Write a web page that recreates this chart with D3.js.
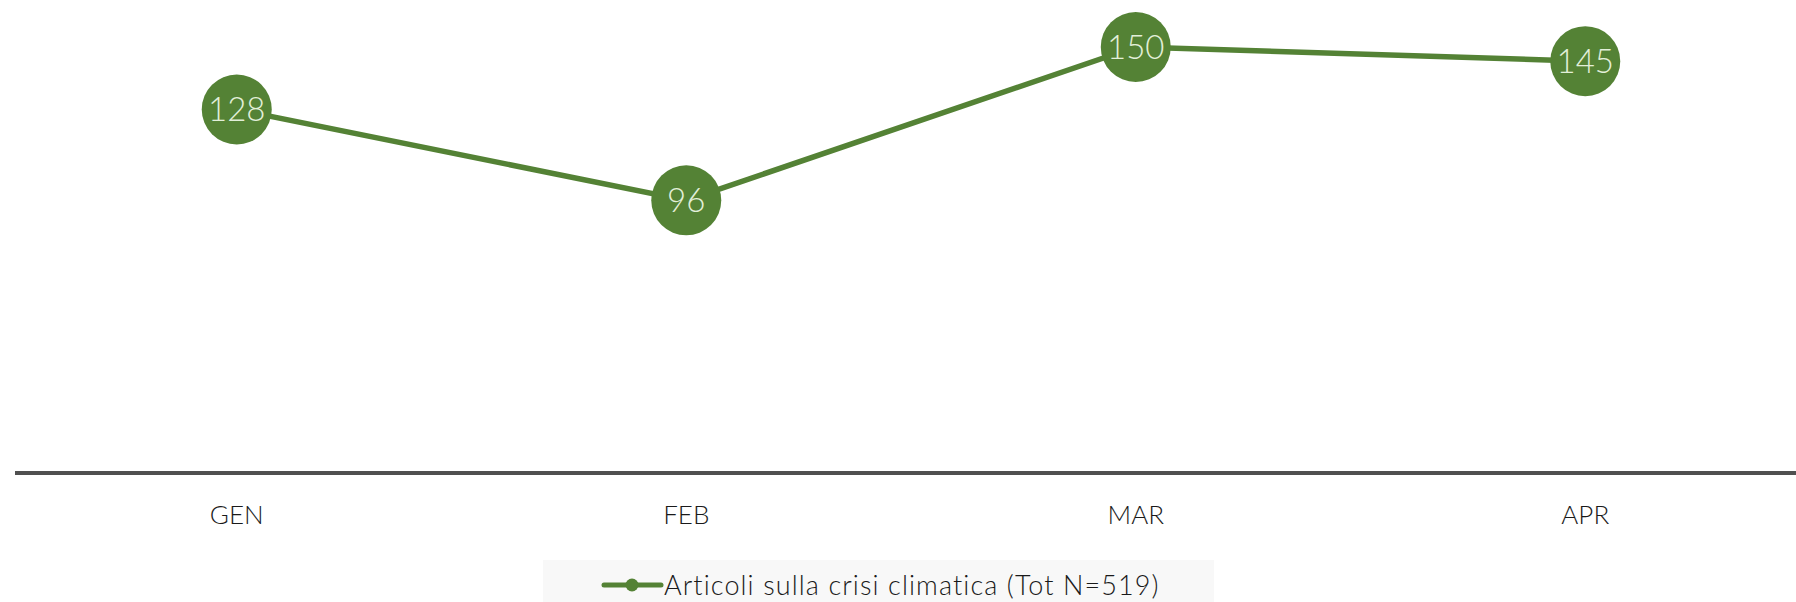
<!DOCTYPE html>
<html>
<head>
<meta charset="utf-8">
<script src="https://cdn.jsdelivr.net/npm/d3@7"></script>
<style>
  html, body { margin: 0; padding: 0; background: #fff; }
  svg { display: block; font-family: Lato, "Open Sans", sans-serif; font-weight: 300; }
</style>
</head>
<body>
<div id="chart"></div>
<script>
// data
const months = ["GEN", "FEB", "MAR", "APR"];
const articles = [128, 96, 150, 145];
const seriesName = "Articoli sulla crisi climatica (Tot N=519)";

const width = 1796, height = 602;
const green = "#548235";

const svg = d3.select("#chart").append("svg")
    .attr("width", width)
    .attr("height", height);

const xScale = d3.scaleBand()
    .domain(months)
    .range([12, 1810]);

const yScale = d3.scaleLinear()
    .domain([0, 160])
    .range([473, 18.6]);

const data = months.map((m, i) => ({ month: m, value: articles[i] }));

// x axis baseline
svg.append("line")
    .attr("x1", 15)
    .attr("x2", width)
    .attr("y1", yScale(0))
    .attr("y2", yScale(0))
    .attr("stroke", "#505050")
    .attr("stroke-width", 4);

// month labels, via d3 axis with hidden domain/ticks
const xAxis = svg.append("g")
    .attr("transform", `translate(0,${yScale(0)})`)
    .call(d3.axisBottom(xScale).tickSize(0).tickPadding(33));
xAxis.select(".domain").remove();
xAxis.selectAll("text")
    .attr("font-family", "Lato, 'Open Sans', sans-serif")
    .attr("font-weight", 300)
    .attr("font-size", 26)
    .attr("fill", "#1a1a1a");

const cx = d => xScale(d.month) + xScale.bandwidth() / 2;

const line = d3.line()
    .x(cx)
    .y(d => yScale(d.value));

svg.append("path")
    .datum(data)
    .attr("d", line)
    .attr("fill", "none")
    .attr("stroke", green)
    .attr("stroke-width", 5.5);

const pts = svg.selectAll(".pt")
    .data(data)
    .join("g")
    .attr("class", "pt")
    .attr("transform", d => `translate(${cx(d)},${yScale(d.value)})`);

pts.append("circle")
    .attr("r", 35)
    .attr("fill", green);

pts.append("text")
    .attr("text-anchor", "middle")
    .attr("dy", "0.36em")
    .attr("font-size", 33)
    .attr("fill", "#e2efd9")
    .text(d => d.value);

// legend
const legend = svg.append("g");
legend.append("rect")
    .attr("x", 543)
    .attr("y", 560)
    .attr("width", 671)
    .attr("height", 42)
    .attr("fill", "#f8f8f8");

legend.append("line")
    .attr("x1", 604)
    .attr("x2", 661)
    .attr("y1", 585)
    .attr("y2", 585)
    .attr("stroke", green)
    .attr("stroke-width", 5)
    .attr("stroke-linecap", "round");

legend.append("circle")
    .attr("cx", 632)
    .attr("cy", 585)
    .attr("r", 6.5)
    .attr("fill", green);

legend.append("text")
    .attr("x", 664)
    .attr("y", 595)
    .attr("font-size", 27)
    .attr("letter-spacing", 1.1)
    .attr("fill", "#1a1a1a")
    .text(seriesName);
</script>
</body>
</html>
